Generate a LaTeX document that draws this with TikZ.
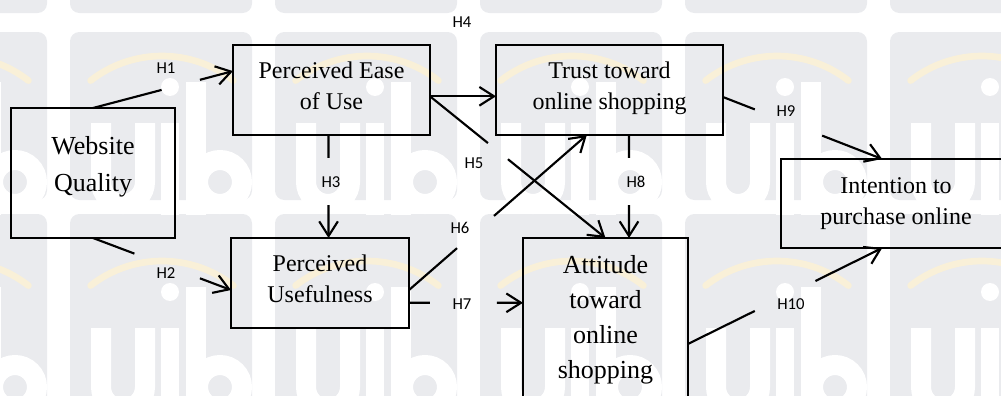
\documentclass[tikz,border=0pt]{standalone}
\usepackage{fontspec}
\setmainfont{Liberation Serif}
\newfontfamily\labelfont{Carlito}
\usetikzlibrary{calc,arrows.meta}

\definecolor{tilegrey}{HTML}{EAEBEE}
\definecolor{arcgold}{RGB}{249,240,216}

\tikzset{
  box/.style={draw=black, line width=2pt, rectangle, inner sep=0pt, outer sep=0pt,
    align=center, font=\fontsize{18}{23.25}\selectfont},
  hyp/.style={font=\labelfont\fontsize{12.5}{15}\selectfont, inner sep=0pt},
  conn/.style={line width=1.6pt},
  arr/.style={conn, -{Straight Barb[length=11pt,width=14pt]}},
  mark stroke/.style={white, line width=15pt},
}

% a hypothesis path: plain lead-in, gap for the label, arrowed tail
\newcommand\gapline[4]{%
  \draw[conn] (#1) -- ($(#1)!#3!(#2)$);
  \draw[arr] ($(#1)!#4!(#2)$) -- (#2);}

\begin{document}
\begin{tikzpicture}[x=0.75pt, y=-0.75pt]
\useasboundingbox (0,0) rectangle (1001,396);
\clip (0,0) rectangle (1001,396);

% background logo tiles
\foreach \k in {-1,...,4}{
  \pgfmathsetmacro\xo{70+205*\k}
  \foreach \tiley/\tileh in {-200/213, 32/168, 214/200}{
    \fill[tilegrey, rounded corners=7pt] (\xo,\tiley) rectangle ++(182,\tileh);
  }
  \foreach \yo in {32,237}{
    \draw[arcgold, line width=5pt, line cap=round]
      (\xo+20.6,\yo+48.6) arc[start angle=-128, end angle=-52, radius=116];
    % u
    \draw[mark stroke] (\xo+31,\yo+91) -- (\xo+31,\yo+150)
      arc[start angle=180, end angle=0, radius=22] -- (\xo+75,\yo+91);
    % i
    \draw[mark stroke, line width=14pt] (\xo+100,\yo+91) -- (\xo+100,\yo+183);
    \fill[white] (\xo+100,\yo+55) circle[radius=9];
    % b
    \draw[mark stroke] (\xo+126,\yo+50) -- (\xo+126,\yo+183);
    \draw[mark stroke] (\xo+150,\yo+150) circle[radius=22];
  }
}

% constructs
\node[box, minimum width=123pt, minimum height=97.5pt,
      font=\fontsize{19.5}{27.75}\selectfont, text depth=14.05pt] (wq) at (93,173) {Website\\Quality};
\node[box, minimum width=147.75pt, minimum height=67.5pt, text depth=7.05pt] (peou) at (331.5,90) {Perceived Ease\\of Use};
\node[box, minimum width=170.25pt, minimum height=67.5pt, text depth=7.05pt] (trust) at (609.5,90) {Trust toward\\online shopping};
\node[box, minimum width=133.5pt, minimum height=67.5pt, text depth=7.05pt] (pu) at (320,283) {Perceived\\Usefulness};
\node[box, minimum width=123.75pt, minimum height=123pt,
      font=\fontsize{19.5}{26.25}\selectfont, text depth=5.05pt] (att) at (605.5,320) {Attitude\\toward\\online\\shopping};
\node[box, minimum width=172.5pt, minimum height=66.75pt, text depth=4.4pt] (intent) at (896,203.5) {Intention to\\purchase online};

% connector end points
\coordinate (s1) at (wq.north);
\coordinate (e1) at ($(peou.north west)!0.29!(peou.south west)$);
\coordinate (s2) at (wq.south);
\coordinate (e2) at ($(pu.north west)!0.578!(pu.south west)$);
\coordinate (s3) at ($(peou.south west)!0.485!(peou.south east)$);
\coordinate (e3) at (s3 |- pu.north);
\coordinate (s4) at ($(peou.north east)!0.57!(peou.south east)$);
\coordinate (e4) at (trust.west |- s4);
\coordinate (e5) at (att.north);
\coordinate (s6) at ($(pu.north east)!0.578!(pu.south east)$);
\coordinate (e6) at ($(trust.south west)!0.40!(trust.south east)$);
\coordinate (s7) at ($(pu.north east)!0.72!(pu.south east)$);
\coordinate (e7) at (att.west |- s7);
\coordinate (s8) at ($(trust.south west)!0.586!(trust.south east)$);
\coordinate (e8) at (s8 |- att.north);
\coordinate (s9) at ($(trust.north east)!0.578!(trust.south east)$);
\coordinate (e9) at ($(intent.north west)!0.44!(intent.north east)$);
\coordinate (s10) at ($(att.north east)!0.646!(att.south east)$);
\coordinate (e10) at ($(intent.south west)!0.44!(intent.south east)$);

% hypotheses
\gapline{s1}{e1}{0.49}{0.764}
\gapline{s2}{e2}{0.30}{0.775}
\gapline{s3}{e3}{0.223}{0.68}
\draw[arr] (s4) -- (e4);
\gapline{s4}{e5}{0.33}{0.444}
\gapline{s6}{e6}{0.27}{0.478}
\gapline{s7}{e7}{0.184}{0.77}
\gapline{s8}{e8}{0.223}{0.68}
\gapline{s9}{e9}{0.20}{0.623}
\gapline{s10}{e10}{0.344}{0.656}

% hypothesis labels
\node[hyp] (h1) at (166,68) {H1};
\node[hyp] (h2) at (166,273) {H2};
\node[hyp] (h3) at (331,182) {H3};
\node[hyp] (h4) at (462,22) {H4};
\node[hyp] (h5) at (474,163) {H5};
\node[hyp] (h6) at (460,228) {H6};
\node[hyp] (h7) at (462,304) {H7};
\node[hyp] (h8) at (636,182) {H8};
\node[hyp] (h9) at (786,111) {H9};
\node[hyp] (h10) at (791,304) {H10};
\end{tikzpicture}
\end{document}
